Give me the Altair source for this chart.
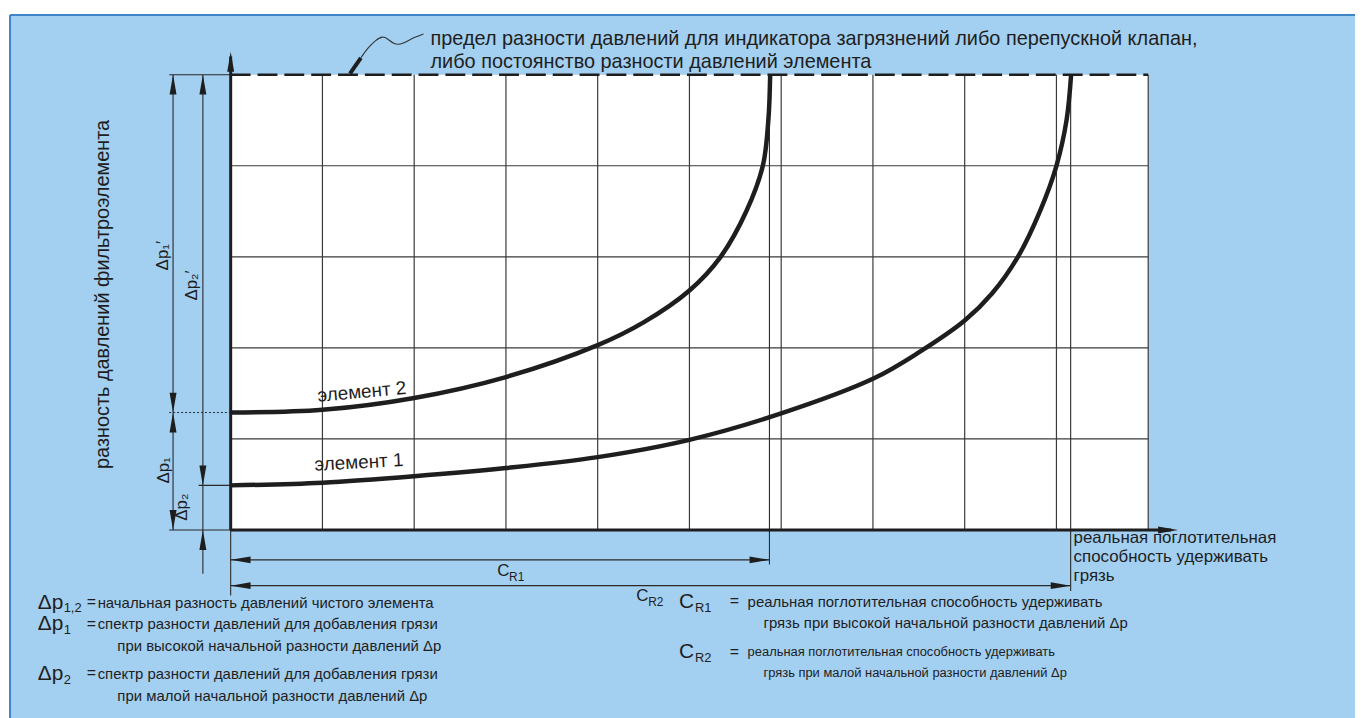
import altair as alt
import pandas as pd

# ------------------------------------------------------------------
# Chart units: x = grid columns (0..10), y = grid rows (0..5)
# ------------------------------------------------------------------
W, H = 1355, 710
X_DOMAIN = [-2.427, 12.254]
Y_DOMAIN = [-2.0415, 5.7096]

# curves
elem1_x = [0, 1, 2, 3, 4, 5, 6, 7, 7.5, 8, 8.3, 8.58, 8.82, 9.0, 9.11, 9.16]
elem1_y = [0.49, 0.52, 0.59, 0.68, 0.80, 0.99, 1.28, 1.66, 1.95, 2.30, 2.6, 3.0, 3.5, 4.0, 4.5, 5.0]
elem2_x = [0, 1, 2, 3, 4, 4.5, 5, 5.34, 5.62, 5.80, 5.86, 5.88]
elem2_y = [1.29, 1.32, 1.45, 1.68, 2.03, 2.28, 2.63, 3.0, 3.5, 4.0, 4.5, 5.0]

grid_cols = [1, 2, 3, 4, 5, 6, 7, 8, 9, 10]
grid_rows = [1, 2, 3, 4]
limit_y = 5

# background frame
frame_x = [-2.405, 12.3]
frame_y = [-2.1, 5.655]

# thin dimension / extension segments (x, y, x2, y2)
seg_x = [-0.628, -0.303, -0.67, -0.35, -0.67, 0, 0, 5.872, 9.155, 0]
seg_y = [0, -0.48, 5, 0.49, 0, -0.328, -0.611, 5, 5, -0.72]
seg_x2 = [-0.628, -0.303, 0, 0, 0, 5.872, 9.155, 5.872, 9.155, 0]
seg_y2 = [5, 5, 5, 0.49, 0, -0.328, -0.611, -0.38, -0.67, 0]
dot_x, dot_y, dot_x2, dot_y2 = [-0.67], [1.29], [0], [1.29]

# thick axes
axis_x = [0, 0]
axis_y = [0, 0]
axis_x2 = [0, 10.25]
axis_y2 = [5.2, 0]

# arrow heads
UP = "M0,0L0.7,4L-0.7,4Z"
DOWN = "M0,0L0.7,-4L-0.7,-4Z"
RIGHT = "M0,0L-4,0.7L-4,-0.7Z"
LEFT = "M0,0L4,0.7L4,-0.7Z"
arrow_x = [0, 10.325, -0.628, -0.628, -0.628, -0.628, -0.303, -0.303, -0.303, 0, 5.872, 0, 9.155]
arrow_y = [5.251, 0, 5, 1.29, 1.29, 0, 5, 0.49, 0, -0.328, -0.328, -0.611, -0.611]
arrow_shape = [UP, RIGHT, UP, DOWN, UP, DOWN, UP, DOWN, UP, LEFT, RIGHT, LEFT, RIGHT]

# squiggle leader
lead_thick_x = [1.300, 1.419]
lead_thick_y = [5.011, 5.186]
lead_x = [1.419, 1.495, 1.582, 1.658, 1.712, 1.777, 1.842, 1.929, 2.015, 2.102]
lead_y = [5.186, 5.295, 5.382, 5.426, 5.393, 5.338, 5.328, 5.371, 5.415, 5.448]

# left-aligned texts
tl_text = [
    "предел разности давлений для индикатора загрязнений либо перепускной клапан,",
    "либо постоянство разности давлений элемента",
    "реальная поглотительная",
    "способность удерживать",
    "грязь",
    "C", "R1", "C", "R2",
    "Δp", "1,2", "=", "начальная разность давлений чистого элемента",
    "Δp", "1", "=", "спектр разности давлений для добавления грязи",
    "при высокой начальной разности давлений Δp",
    "Δp", "2", "=", "спектр разности давлений для добавления грязи",
    "при малой начальной разности давлений Δp",
    "C", "R1", "=", "реальная поглотительная способность удерживать",
    "грязь при высокой начальной разности давлений Δp",
    "C", "R2", "=", "реальная поглотительная способность удерживать",
    "грязь при малой начальной разности давлений Δp",
]
tl_x = [2.178, 2.178, 9.187, 9.187, 9.187,
        2.904, 3.034, 4.420, 4.550,
        -2.102, -1.820, -1.570, -1.450,
        -2.102, -1.820, -1.570, -1.450,
        -1.235,
        -2.102, -1.820, -1.570, -1.450,
        -1.235,
        4.886, 5.060, 5.440, 5.634,
        5.807,
        4.886, 5.060, 5.440, 5.634,
        5.807]
tl_y = [5.392, 5.141, -0.087, -0.295, -0.502,
        -0.448, -0.513, -0.721, -0.786,
        -0.797, -0.862, -0.790, -0.797,
        -1.037, -1.103, -1.030, -1.037,
        -1.277,
        -1.583, -1.648, -1.576, -1.583,
        -1.823,
        -0.786, -0.852, -0.779, -0.786,
        -1.026,
        -1.343, -1.408, -1.336, -1.343,
        -1.572]
tl_size = [20, 20, 17, 17, 17,
           17, 12, 17, 12,
           21, 13, 16, 15,
           21, 13, 16, 15,
           15,
           21, 13, 16, 15,
           15,
           21, 13, 16, 15,
           15,
           21, 13, 16, 13,
           13]

# centred / rotated texts
tc_text = ["разность давлений фильтроэлемента", "Δp₁′", "Δp₂′", "Δp₁", "Δp₂",
           "элемент 2", "элемент 1"]
tc_x = [-1.387, -0.737, -0.423, -0.726, -0.531, 1.430, 1.398]
tc_y = [2.587, 3.013, 2.686, 0.655, 0.251, 1.517, 0.742]
tc_size = [20, 17, 17, 17, 17, 19, 19]
tc_angle = [270, 270, 270, 270, 270, 355, 357]

BLUE = "#a3cff0"
INK = "#1e1e1e"
FONT = "Liberation Sans, Arial, sans-serif"

xs = alt.Scale(domain=X_DOMAIN, nice=False, zero=False)
ys = alt.Scale(domain=Y_DOMAIN, nice=False, zero=False)


def ex(f="x"):
    return alt.X(f, type="quantitative", scale=xs, axis=None)


def ey(f="y"):
    return alt.Y(f, type="quantitative", scale=ys, axis=None)


frame = alt.Chart(pd.DataFrame({"x": [frame_x[0]], "x2": [frame_x[1]],
                                "y": [frame_y[0]], "y2": [frame_y[1]]})).mark_rect(
    color=BLUE).encode(x=ex(), x2="x2:Q", y=ey(), y2="y2:Q")

frame_edges = alt.Chart(pd.DataFrame({
    "x": [frame_x[0], frame_x[0]], "x2": [frame_x[1], frame_x[0]],
    "y": [frame_y[1], frame_y[0]], "y2": [frame_y[1], frame_y[1]]})).mark_rule(
    color="#3f86c6", strokeWidth=2).encode(x=ex(), x2="x2:Q", y=ey(), y2="y2:Q")

plot_bg = alt.Chart(pd.DataFrame({"x": [0], "x2": [10], "y": [0], "y2": [limit_y]})).mark_rect(
    color="white").encode(x=ex(), x2="x2:Q", y=ey(), y2="y2:Q")

vgrid = alt.Chart(pd.DataFrame({"x": grid_cols, "y": [0] * len(grid_cols),
                                "y2": [limit_y] * len(grid_cols)})).mark_rule(
    color="#3a3a3a", strokeWidth=1.2).encode(x=ex(), y=ey(), y2="y2:Q")

hgrid = alt.Chart(pd.DataFrame({"y": grid_rows, "x": [0] * len(grid_rows),
                                "x2": [10] * len(grid_rows)})).mark_rule(
    color="#3a3a3a", strokeWidth=1.2).encode(x=ex(), x2="x2:Q", y=ey())

limit = alt.Chart(pd.DataFrame({"x": [0], "x2": [10], "y": [limit_y]})).mark_rule(
    color=INK, strokeWidth=2.5, strokeDash=[20, 7]).encode(x=ex(), x2="x2:Q", y=ey())

segs = alt.Chart(pd.DataFrame({"x": seg_x, "y": seg_y, "x2": seg_x2, "y2": seg_y2})).mark_rule(
    color="#2a2a2a", strokeWidth=1.1).encode(x=ex(), y=ey(), x2="x2:Q", y2="y2:Q")

dots = alt.Chart(pd.DataFrame({"x": dot_x, "y": dot_y, "x2": dot_x2, "y2": dot_y2})).mark_rule(
    color="#2a2a2a", strokeWidth=1, strokeDash=[2, 2]).encode(x=ex(), y=ey(), x2="x2:Q", y2="y2:Q")

axes = alt.Chart(pd.DataFrame({"x": axis_x, "y": axis_y, "x2": axis_x2, "y2": axis_y2})).mark_rule(
    color=INK, strokeWidth=3).encode(x=ex(), y=ey(), x2="x2:Q", y2="y2:Q")

arrows = alt.Chart(pd.DataFrame({"x": arrow_x, "y": arrow_y, "shape": arrow_shape})).mark_point(
    filled=True, color=INK, size=100, opacity=1, strokeWidth=0).encode(
    x=ex(), y=ey(), shape=alt.Shape("shape:N", scale=None))

curve_df = pd.DataFrame({
    "x": elem1_x + elem2_x,
    "y": elem1_y + elem2_y,
    "element": ["1"] * len(elem1_x) + ["2"] * len(elem2_x),
    "order": list(range(len(elem1_x))) + list(range(len(elem2_x))),
})
curves = alt.Chart(curve_df).mark_line(
    color=INK, strokeWidth=4.5, interpolate="catmull-rom", strokeCap="butt").encode(
    x=ex(), y=ey(), detail="element:N", order="order:Q")

lead_thick = alt.Chart(pd.DataFrame({"x": lead_thick_x, "y": lead_thick_y, "o": [0, 1]})).mark_line(
    color=INK, strokeWidth=4).encode(x=ex(), y=ey(), order="o:Q")
lead = alt.Chart(pd.DataFrame({"x": lead_x, "y": lead_y, "o": list(range(len(lead_x)))})).mark_line(
    color="#333333", strokeWidth=1.1, interpolate="basis").encode(x=ex(), y=ey(), order="o:Q")

text_left = alt.Chart(pd.DataFrame({"x": tl_x, "y": tl_y, "t": tl_text, "s": tl_size})).mark_text(
    align="left", baseline="middle", font=FONT, color=INK).encode(
    x=ex(), y=ey(), text="t:N", size=alt.Size("s:Q", scale=None))

text_center = alt.Chart(pd.DataFrame({"x": tc_x, "y": tc_y, "t": tc_text, "s": tc_size,
                                      "a": tc_angle})).mark_text(
    align="center", baseline="middle", font=FONT, color=INK).encode(
    x=ex(), y=ey(), text="t:N", size=alt.Size("s:Q", scale=None),
    angle=alt.Angle("a:Q", scale=None))

chart = alt.layer(
    frame, frame_edges, plot_bg, vgrid, hgrid, segs, dots, limit, curves, axes,
    arrows, lead_thick, lead, text_left, text_center,
).properties(
    width=W, height=H, padding=0,
    autosize=alt.AutoSizeParams(type="none"),
    background="white",
).configure_view(strokeWidth=0)

chart.save("out.html", embed_options={"renderer": "svg", "actions": False})
